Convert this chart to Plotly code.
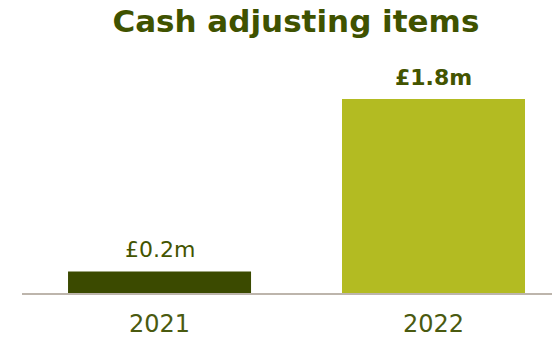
import plotly.graph_objects as go

# Data
years = ["2021", "2022"]
values = [0.2, 1.8]
bar_colors = ["#3b4a00", "#b3bb22"]
label_bold = [False, True]

FONT = "DejaVu Sans"
TEXT_COLOR = "#435400"

fig = go.Figure(
    go.Bar(
        x=years,
        y=values,
        marker=dict(color=bar_colors, line=dict(width=0)),
        width=0.668,
        hoverinfo="skip",
    )
)

# Value labels sitting above each bar (category index as x position)
for i, (v, b) in enumerate(zip(values, label_bold)):
    t = f"£{v:.1f}m"
    fig.add_annotation(
        x=i,
        y=v,
        text=f"<b>{t}</b>" if b else t,
        showarrow=False,
        xanchor="center",
        yanchor="bottom",
        yshift=7,
        font=dict(family=FONT, size=22, color=TEXT_COLOR),
    )

fig.update_layout(
    width=552,
    height=337,
    margin=dict(l=22, r=0, t=60, b=44),
    paper_bgcolor="white",
    plot_bgcolor="white",
    showlegend=False,
    title=dict(
        text="<b>Cash adjusting items</b>",
        x=0.536,
        xanchor="center",
        y=0.968,
        yanchor="top",
        font=dict(family=FONT, size=31, color="#3f5200"),
    ),
)

fig.update_xaxes(
    type="category",
    range=[-0.502, 1.4325],
    showline=True,
    linecolor="#bdb5ac",
    linewidth=2,
    ticks="",
    showgrid=False,
    zeroline=False,
    automargin=False,
    tickfont=dict(family=FONT, size=24, color="#4a5a10"),
    ticklabelstandoff=8,
)
fig.update_yaxes(
    range=[0, 2.162],
    visible=False,
    showgrid=False,
    zeroline=False,
)

fig.write_html("out.html")
